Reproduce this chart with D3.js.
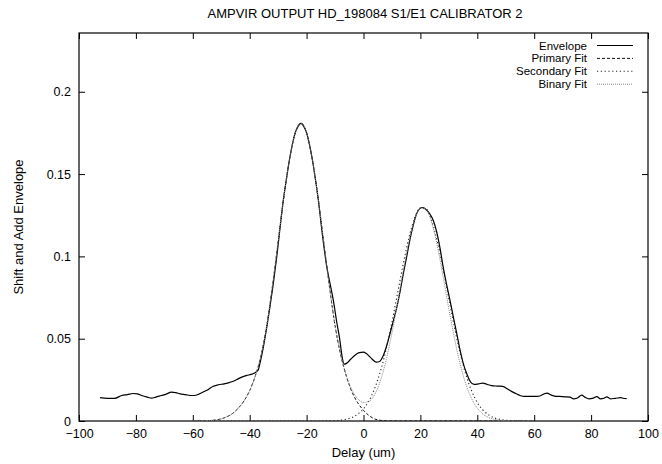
<!DOCTYPE html>
<html>
<head>
<meta charset="utf-8">
<script src="https://cdn.jsdelivr.net/npm/d3@7"></script>
<style>
  html, body { margin: 0; padding: 0; background: #fff; }
  svg { display: block; }
  text { font-family: "Liberation Sans", Arial, sans-serif; fill: #000; }
</style>
</head>
<body>
<svg id="chart" width="662" height="464"></svg>
<script>
// ---------------- DATA ----------------
const titleText = "AMPVIR OUTPUT HD_198084 S1/E1 CALIBRATOR 2";
const xLabel = "Delay (um)";
const yLabel = "Shift and Add Envelope";

const xTickValues = [-100, -80, -60, -40, -20, 0, 20, 40, 60, 80, 100];
const yTickValues = [0, 0.05, 0.1, 0.15, 0.2];
const yTickLabels = ["0", "0.05", "0.1", "0.15", "0.2"];

const seriesNames = ["Envelope", "Primary Fit", "Secondary Fit", "Binary Fit"];

// Envelope (measured)
const envX = [-92.6, -90, -87.5, -85, -83, -81, -79.5, -78, -76, -74.5, -73, -71, -69.5, -67.5, -66, -64.5,
  -62.5, -61, -59.5, -58, -56.5, -54.5, -53, -51, -49, -47.5, -46, -44.5, -43, -41, -39.5, -38, -37,
  -36.4, -35.2, -34, -32.9, -31.7, -30.5, -29.3, -28.2, -27, -26, -25, -24, -23, -22, -21, -20, -19,
  -18, -17, -16, -14.5, -12.9, -11.7, -10.6, -9.4, -8.3, -7.6, -6.8, -6, -4.5, -3, -1.5, 0, 1, 2.5,
  4.5, 5.5, 7, 8.2, 9.3, 10.5, 11.7, 12.9, 14, 15.2, 16.3, 17.5, 18.7, 19.8, 20.8, 22, 23.2, 24.5,
  25.7, 27, 28, 29.2, 30.4, 31.6, 32.8, 33.7, 34.5, 35.4, 36.3, 37.2, 38, 39, 40.5, 42, 43.5, 45, 47,
  49, 50.5, 52, 53.5, 55, 56.5, 58, 60, 62, 63.5, 64.5, 66, 67.5, 69, 71, 72.6, 73.8, 75, 76.7, 77.8,
  79.3, 80.5, 82, 83.3, 84.5, 85.5, 86.8, 88.5, 90.5, 91.3, 92.5];
const envY = [0.0142, 0.0137, 0.0137, 0.0155, 0.016, 0.0167, 0.0165, 0.0155, 0.0145, 0.0139, 0.0145, 0.0155, 0.0162, 0.0175, 0.0172, 0.0165,
  0.016, 0.0155, 0.0155, 0.0162, 0.0175, 0.0192, 0.021, 0.022, 0.0226, 0.0232, 0.024, 0.0252, 0.0265, 0.0277, 0.0283, 0.0295, 0.031,
  0.035, 0.0449, 0.057, 0.0692, 0.0835, 0.0996, 0.1179, 0.134, 0.148, 0.159, 0.168, 0.175, 0.179, 0.1808, 0.179, 0.175, 0.168,
  0.159, 0.148, 0.136, 0.114, 0.0936, 0.083, 0.0733, 0.06, 0.049, 0.040, 0.0345, 0.035, 0.0375, 0.040, 0.0415, 0.0419, 0.041, 0.0385,
  0.0358, 0.036, 0.040, 0.046, 0.053, 0.061, 0.069, 0.079, 0.0895, 0.100, 0.11, 0.119, 0.126, 0.129, 0.1297, 0.1285, 0.126, 0.122,
  0.115, 0.104, 0.0936, 0.083, 0.0733, 0.063, 0.053, 0.045, 0.0388, 0.033, 0.0287, 0.025, 0.023, 0.0222, 0.0226, 0.023, 0.0222, 0.0215, 0.0212,
  0.021, 0.0196, 0.018, 0.0167, 0.0155, 0.0149, 0.0149, 0.0149, 0.0152, 0.0165, 0.0169, 0.0157, 0.015, 0.0149, 0.0147, 0.0145, 0.0135, 0.0138, 0.0157, 0.0145,
  0.0135, 0.0137, 0.0148, 0.0135, 0.0138, 0.0147, 0.0135, 0.0138, 0.0142, 0.0138, 0.0136];

// Fits (read at 2 um spacing)
const fitX = [-60, -58, -56, -54, -52, -50, -48, -46, -44, -42, -40, -38, -36, -34, -32, -30, -28, -26, -24, -22,
  -20, -18, -16, -14, -12, -10, -8, -6, -4, -2, 0, 2, 4, 6, 8, 10, 12, 14, 16, 18, 20, 22, 24, 26, 28, 30,
  32, 34, 36, 38, 40, 42, 44, 46, 48, 50, 52, 54, 56, 58, 60];
const primaryFit = [0, 0, 0.0001, 0.0003, 0.0006, 0.0013, 0.0026, 0.0046, 0.0078, 0.0122, 0.0185, 0.0275, 0.040, 0.058, 0.082, 0.109, 0.136, 0.159, 0.175, 0.181,
  0.175, 0.159, 0.136, 0.109, 0.082, 0.058, 0.040, 0.027, 0.0175, 0.011, 0.0065, 0.0032, 0.0012, 0.0004, 0.0001, 0, 0, 0, 0, 0, 0, 0, 0, 0, 0, 0,
  0, 0, 0, 0, 0, 0, 0, 0, 0, 0, 0, 0, 0, 0, 0];
const secondaryFit = [0, 0, 0, 0, 0, 0, 0, 0, 0, 0, 0, 0, 0, 0, 0, 0, 0, 0, 0, 0,
  0, 0, 0, 0, 0.0001, 0.0002, 0.0005, 0.0011, 0.0022, 0.0042, 0.0074, 0.0125, 0.0201, 0.0305, 0.0439, 0.0601, 0.0778, 0.0957, 0.1116, 0.1234, 0.1295, 0.1288, 0.1215, 0.1087, 0.0922, 0.0743,
  0.0567, 0.0410, 0.0281, 0.0183, 0.0113, 0.0066, 0.0037, 0.0019, 0.0010, 0.0005, 0.0002, 0.0001, 0, 0, 0];
const binaryFit = [0, 0, 0.0001, 0.0003, 0.0006, 0.0013, 0.0026, 0.0046, 0.0078, 0.0122, 0.0185, 0.0275, 0.040, 0.058, 0.082, 0.109, 0.136, 0.159, 0.175, 0.181,
  0.175, 0.159, 0.136, 0.109, 0.082, 0.058, 0.0401, 0.0275, 0.0187, 0.0135, 0.0113, 0.012, 0.0163, 0.0248, 0.0373, 0.0534, 0.072, 0.0914, 0.109, 0.1225, 0.1294, 0.1286, 0.1202, 0.1058, 0.0876, 0.0681,
  0.0499, 0.0344, 0.0223, 0.0136, 0.0078, 0.0042, 0.0021, 0.0010, 0.0005, 0.0002, 0.0001, 0, 0, 0, 0];

// ---------------- CHART ----------------
const L = 79, R = 648, T = 33, B = 421;
const svg = d3.select("#chart");

const x = d3.scaleLinear().domain([-100, 100]).range([L, R]);
const y = d3.scaleLinear().domain([0, 0.2357]).range([B, T]);

const fontSize = 13;
const tickFont = 12.5;
const legendFont = 11.5;

// Axes (inward ticks, mirrored)
const gB = svg.append("g").attr("transform", `translate(0,${B})`)
  .call(d3.axisBottom(x).tickValues(xTickValues).tickSize(-6).tickPadding(8).tickFormat(d3.format("d")));
const gT = svg.append("g").attr("transform", `translate(0,${T})`)
  .call(d3.axisTop(x).tickValues(xTickValues).tickSize(-6).tickFormat(""));
const gL = svg.append("g").attr("transform", `translate(${L},0)`)
  .call(d3.axisLeft(y).tickValues(yTickValues).tickSize(-6).tickPadding(8).tickFormat((d, i) => yTickLabels[i]));
const gR = svg.append("g").attr("transform", `translate(${R},0)`)
  .call(d3.axisRight(y).tickValues(yTickValues).tickSize(-6).tickFormat(""));

[gB, gT, gL, gR].forEach(g => {
  g.select(".domain").remove();
  g.selectAll("line").attr("stroke", "#000").attr("stroke-width", 1);
  g.selectAll("text").attr("font-size", tickFont).attr("font-family", "Liberation Sans, Arial, sans-serif").attr("fill", "#000");
});

// Frame
svg.append("rect")
  .attr("x", L).attr("y", T).attr("width", R - L).attr("height", B - T)
  .attr("fill", "none").attr("stroke", "#000").attr("stroke-width", 1.2);

// Titles
svg.append("text").attr("x", 365).attr("y", 18).attr("text-anchor", "middle")
  .attr("font-size", fontSize).text(titleText);
svg.append("text").attr("x", (L + R) / 2).attr("y", 457).attr("text-anchor", "middle")
  .attr("font-size", fontSize).text(xLabel);
svg.append("text").attr("transform", `translate(23,${(T + B) / 2}) rotate(-90)`).attr("text-anchor", "middle")
  .attr("font-size", fontSize).text(yLabel);

// Lines
const styles = [
  { stroke: "#000", dash: null, width: 1.2 },
  { stroke: "#111", dash: "3,2", width: 1 },
  { stroke: "#222", dash: "1.2,2.6", width: 1.1 },
  { stroke: "#888", dash: "1,1", width: 1 }
];

svg.append("clipPath").attr("id", "clip")
  .append("rect").attr("x", L).attr("y", T).attr("width", R - L).attr("height", B - T);

const lineGen = d3.line().x(d => x(d[0])).y(d => y(d[1])).curve(d3.curveMonotoneX);

const seriesData = [
  envX.map((v, i) => [v, envY[i]]),
  fitX.map((v, i) => [v, primaryFit[i]]),
  fitX.map((v, i) => [v, secondaryFit[i]]),
  fitX.map((v, i) => [v, binaryFit[i]])
];

const plot = svg.append("g").attr("clip-path", "url(#clip)");
seriesData.forEach((data, i) => {
  plot.append("path").datum(data)
    .attr("d", lineGen)
    .attr("fill", "none")
    .attr("stroke", styles[i].stroke)
    .attr("stroke-width", styles[i].width)
    .attr("stroke-dasharray", styles[i].dash);
});

// Legend
const legendTextX = 587, legendLineX1 = 597, legendLineX2 = 633;
const legendY0 = 45.5, legendDy = 12.9;
seriesNames.forEach((name, i) => {
  const yy = legendY0 + i * legendDy;
  svg.append("text").attr("x", legendTextX).attr("y", yy).attr("dy", "0.35em")
    .attr("text-anchor", "end").attr("font-size", legendFont).text(name);
  svg.append("line").attr("x1", legendLineX1).attr("x2", legendLineX2).attr("y1", yy).attr("y2", yy)
    .attr("stroke", styles[i].stroke).attr("stroke-width", styles[i].width)
    .attr("stroke-dasharray", styles[i].dash);
});
</script>
</body>
</html>
